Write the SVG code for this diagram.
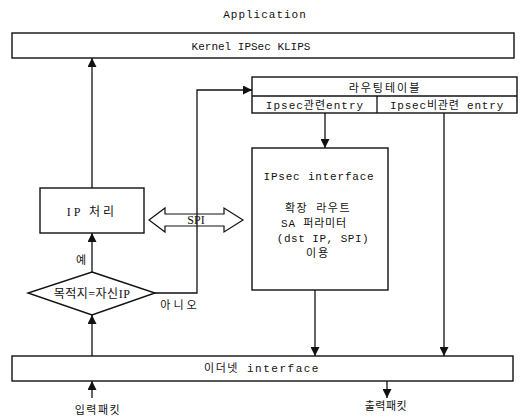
<svg xmlns="http://www.w3.org/2000/svg" width="521" height="420" viewBox="0 0 521 420">
<defs>
<marker id="ah" viewBox="0 0 10 10" refX="10" refY="5" markerWidth="9" markerHeight="9" markerUnits="userSpaceOnUse" orient="auto">
<path d="M0,0 L10,5 L0,10 Z" fill="#111"/>
</marker>
</defs>
<style>
.box{fill:#fff;stroke:#111;stroke-width:1.4}
.ln{fill:none;stroke:#111;stroke-width:1.3}
.t{font-family:"Liberation Mono","Noto Sans CJK KR",monospace;font-size:11px;fill:#111}
.ts{font-family:"Liberation Serif","Noto Sans CJK KR",serif;font-size:12px;fill:#111}
</style>
<rect width="521" height="420" fill="#fff"/>
<text class="t" x="265" y="18" text-anchor="middle" letter-spacing="1">Application</text>
<g id="kernel">
<rect class="box" x="12" y="33" width="502" height="25"/>
<text class="t" x="251" y="50" text-anchor="middle" font-size="10.5">Kernel IPSec KLIPS</text>
</g>
<g id="routing">
<rect class="box" x="252" y="77" width="265" height="36"/>
<line class="ln" x1="252" y1="96" x2="517" y2="96"/>
<line class="ln" x1="377" y1="96" x2="377" y2="113"/>
<text class="t" x="385" y="92" text-anchor="middle" letter-spacing="2" font-size="12">라우팅테이블</text>
<text class="t" x="315" y="109" text-anchor="middle" letter-spacing="1" font-size="11.5">Ipsec관련entry</text>
<text class="t" x="447" y="109" text-anchor="middle" letter-spacing="0.8" font-size="11.5">Ipsec비관련 entry</text>
</g>
<g id="ipproc">
<rect class="box" x="40" y="188" width="104" height="45"/>
<text class="ts" x="92" y="216" text-anchor="middle" letter-spacing="3" font-size="13">IP 처리</text>
</g>
<g id="decision">
<polygon class="box" points="92,272 155,293 92,315 28,293"/>
<text class="ts" x="92" y="298" text-anchor="middle" font-size="14" letter-spacing="0.5">목적지=자신IP</text>
</g>
<g id="ipsecif">
<rect class="box" x="252" y="148" width="136" height="142"/>
<text class="t" x="319" y="180" text-anchor="middle" letter-spacing="0.8">IPsec interface</text>
<text class="t" x="318" y="212" text-anchor="middle" letter-spacing="1.5" font-size="12">확장 라우트</text>
<text class="t" x="314" y="227" text-anchor="middle" letter-spacing="0.8" font-size="12">SA 퍼라미터</text>
<text class="t" x="323" y="242" text-anchor="middle" letter-spacing="0.5" font-size="11.5">(dst IP, SPI)</text>
<text class="t" x="318" y="257" text-anchor="middle" letter-spacing="2" font-size="12">이용</text>
</g>
<g id="ethernet">
<rect class="box" x="12" y="356" width="501" height="25"/>
<text class="t" x="262" y="372" text-anchor="middle" letter-spacing="1.5">이더넷 interface</text>
</g>
<g id="connectors">
<line class="ln" x1="92" y1="188" x2="92" y2="58" marker-end="url(#ah)"/>
<polyline class="ln" points="155,293 197,293 197,90 252,90" marker-end="url(#ah)"/>
<line class="ln" x1="92" y1="272" x2="92" y2="233" marker-end="url(#ah)"/>
<line class="ln" x1="92" y1="356" x2="92" y2="315" marker-end="url(#ah)"/>
<line class="ln" x1="325" y1="113" x2="325" y2="148" marker-end="url(#ah)"/>
<line class="ln" x1="315" y1="290" x2="315" y2="356" marker-end="url(#ah)"/>
<line class="ln" x1="444" y1="113" x2="444" y2="356" marker-end="url(#ah)"/>
<line class="ln" x1="92" y1="398" x2="92" y2="381" marker-end="url(#ah)"/>
<line class="ln" x1="387" y1="381" x2="387" y2="398" marker-end="url(#ah)"/>
<polygon fill="none" stroke="#111" stroke-width="1.2" points="149,220 165,208 165,214 224,214 224,208 243,220 224,232 224,226 165,226 165,232"/>
<text class="ts" x="196" y="224" text-anchor="middle" font-size="11">SPI</text>
<text class="t" x="81" y="264" text-anchor="middle" font-size="12">예</text>
<text class="t" x="180" y="309" text-anchor="middle" letter-spacing="3" font-size="12">아니오</text>
<text class="t" x="98" y="414" text-anchor="middle" letter-spacing="1.5" font-size="12">입력패킷</text>
<text class="t" x="386" y="410" text-anchor="middle" letter-spacing="0.5" font-size="12">출력패킷</text>
</g>
</svg>
